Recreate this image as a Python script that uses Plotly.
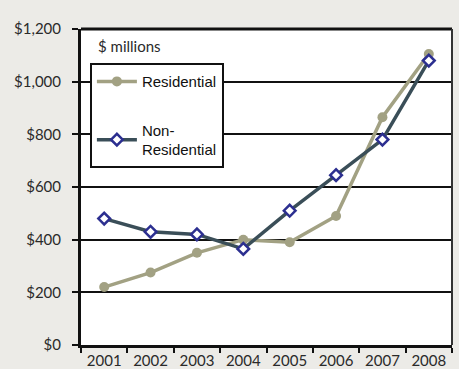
import plotly.graph_objects as go

years = ["2001", "2002", "2003", "2004", "2005", "2006", "2007", "2008"]
residential = [220, 275, 350, 400, 390, 490, 865, 1105]
non_residential = [480, 430, 420, 365, 510, 645, 780, 1080]
y_ticks = [0, 200, 400, 600, 800, 1000, 1200]
y_tick_labels = ["$0", "$200", "$400", "$600", "$800", "$1,000", "$1,200"]

fig = go.Figure()
fig.add_trace(go.Scatter(
    x=years, y=residential, name="Residential", mode="lines+markers",
    line=dict(color="#A2A183", width=3.5),
    marker=dict(symbol="circle", size=10, color="#A2A183"),
    legendgroup="a",
))
fig.add_trace(go.Scatter(
    x=years, y=non_residential, name="Non-<br>Residential", mode="lines+markers",
    line=dict(color="#3A4E58", width=3.5),
    marker=dict(symbol="diamond", size=9, color="white",
                line=dict(color="#2C2F90", width=2.5)),
    legendgroup="b",
))

tick_font = dict(family="Lato, Open Sans, sans-serif", size=15, color="#2a2a2a")

fig.update_layout(
    width=459, height=369,
    margin=dict(l=81, r=7, t=29, b=24),
    paper_bgcolor="#ECEBE7",
    plot_bgcolor="white",
    showlegend=True,
    legend=dict(
        x=0.024, y=0.892, xanchor="left", yanchor="top",
        bgcolor="white", bordercolor="#111111", borderwidth=2,
        font=dict(family="Liberation Sans, Arial, sans-serif", size=15, color="#111111"),
        tracegroupgap=26, traceorder="grouped", itemwidth=40,
    ),
    xaxis=dict(
        type="category", tickson="boundaries", ticks="outside", ticklen=5,
        tickwidth=2, tickcolor="#111111", showline=True, linecolor="#111111",
        linewidth=3, showgrid=False, tickfont=tick_font, range=[-0.5, 7.5],
        fixedrange=True, ticklabelstandoff=0, automargin=False,
    ),
    yaxis=dict(
        range=[0, 1200], tickvals=y_ticks, ticktext=y_tick_labels,
        ticks="outside", ticklen=6, tickwidth=2, tickcolor="#111111",
        showline=True, linecolor="#111111", linewidth=3,
        showgrid=True, gridcolor="#111111", gridwidth=2,
        zeroline=False, tickfont=tick_font, fixedrange=True,
        ticklabelstandoff=8, automargin=False,
    ),
    annotations=[dict(
        text="$ millions", xref="paper", yref="paper", x=0.04, y=0.945,
        xanchor="left", yanchor="middle", showarrow=False,
        font=dict(family="Lato, Open Sans, sans-serif", size=15, color="#2a2a2a"),
    )],
    shapes=[
        dict(type="line", xref="paper", yref="paper", x0=0, x1=1, y0=1, y1=1,
             line=dict(color="#111111", width=3)),
        dict(type="line", xref="paper", yref="paper", x0=1, x1=1, y0=0, y1=1,
             line=dict(color="#333333", width=2)),
    ],
)

fig.write_html("out.html")
